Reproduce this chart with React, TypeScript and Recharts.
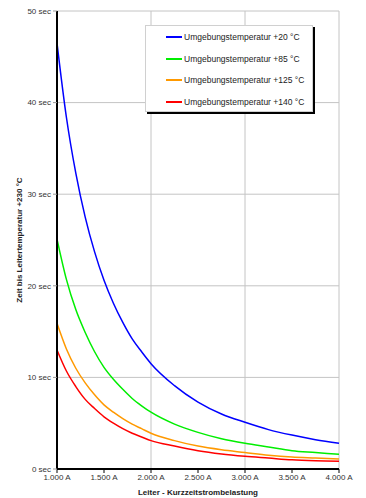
import { LineChart, Line, XAxis, YAxis, CartesianGrid, Label } from "recharts"

const current = [1000, 1100, 1200, 1300, 1400, 1500, 1600, 1700, 1800, 1900, 2000, 2250, 2500, 2750, 3000, 3250, 3500, 3750, 4000]
const temp20 = [46.5, 38.4, 32.3, 27.5, 23.7, 20.6, 18.1, 16.0, 14.2, 12.8, 11.5, 9.1, 7.3, 6.0, 5.1, 4.3, 3.7, 3.2, 2.8]
const temp85 = [25.1, 20.7, 17.4, 14.9, 12.8, 11.1, 9.8, 8.7, 7.7, 6.9, 6.2, 4.9, 4.0, 3.3, 2.8, 2.4, 2.0, 1.8, 1.6]
const temp125 = [15.9, 13.1, 11.0, 9.4, 8.1, 7.0, 6.2, 5.5, 4.9, 4.4, 3.9, 3.1, 2.5, 2.1, 1.8, 1.5, 1.3, 1.2, 1.1]
const temp140 = [13.0, 10.7, 9.0, 7.6, 6.6, 5.7, 5.0, 4.4, 3.9, 3.5, 3.1, 2.5, 2.0, 1.65, 1.4, 1.2, 1.0, 0.9, 0.85]

const xTicks = [1000, 1500, 2000, 2500, 3000, 3500, 4000]
const yTicks = [0, 10, 20, 30, 40, 50]

const series = [
    { key: "t20", name: "Umgebungstemperatur +20 °C", color: "#0000ff" },
    { key: "t85", name: "Umgebungstemperatur +85 °C", color: "#00ee00" },
    { key: "t125", name: "Umgebungstemperatur +125 °C", color: "#ff9900" },
    { key: "t140", name: "Umgebungstemperatur +140 °C", color: "#ff0000" },
]

const data = current.map((a, i) => ({
    a,
    t20: temp20[i],
    t85: temp85[i],
    t125: temp125[i],
    t140: temp140[i],
}))

const font = "'Liberation Sans', Arial, sans-serif"
const fmtAmp = (v: number) => `${(v / 1000).toFixed(3)} A`

// legend sits over the plot, it must not take space from it
function LegendBox() {
    return (
        <div
            style={{
                position: "absolute",
                left: 145,
                top: 25,
                width: 168,
                height: 87,
                background: "#fff",
                border: "1px solid #d0d0d0",
                boxShadow: "2px 2px 0 #000",
                fontFamily: font,
                fontSize: 8.5,
                color: "#222",
                boxSizing: "border-box",
                paddingTop: 0,
            }}
        >
            {series.map((s) => (
                <div key={s.key} style={{ display: "flex", alignItems: "center", height: 21.7, paddingLeft: 20 }}>
                    <span style={{ display: "inline-block", width: 16, height: 2, background: s.color, marginRight: 2 }} />
                    <span>{s.name}</span>
                </div>
            ))}
        </div>
    )
}

const axisTitle = { fontSize: 8, fontWeight: "bold" as const, fill: "#222", fontFamily: font }

export default function App() {
    return (
        <div style={{ position: "absolute", left: 0, top: 0, width: 366, height: 498, background: "#fff" }}>
            <LineChart width={366} height={498} data={data} margin={{ top: 11, right: 27, bottom: 0, left: 0 }}>
                <CartesianGrid stroke="#c4c4c4" strokeWidth={1} />
                <XAxis
                    dataKey="a"
                    type="number"
                    domain={[1000, 4000]}
                    ticks={xTicks}
                    tickFormatter={fmtAmp}
                    height={29}
                    tickSize={4}
                    tickMargin={1}
                    axisLine={{ stroke: "#000", strokeWidth: 2 }}
                    tickLine={{ stroke: "#000" }}
                    tick={{ fontSize: 8, fill: "#333", fontFamily: font }}
                >
                    <Label
                        content={({ viewBox }: any) => (
                            <text x={viewBox.x + viewBox.width / 2} y={495} textAnchor="middle" style={axisTitle}>
                                Leiter - Kurzzeitstrombelastung
                            </text>
                        )}
                    />
                </XAxis>
                <YAxis
                    type="number"
                    domain={[0, 50]}
                    ticks={yTicks}
                    tickFormatter={(v: number) => `${v} sec`}
                    width={57}
                    tickSize={4}
                    tickMargin={2}
                    axisLine={{ stroke: "#000", strokeWidth: 2 }}
                    tickLine={{ stroke: "#999" }}
                    tick={{ fontSize: 8, fill: "#333", fontFamily: font }}
                >
                    <Label
                        content={({ viewBox }: any) => {
                            const cy = viewBox.y + viewBox.height / 2
                            return (
                                <text x={22} y={cy} transform={`rotate(-90 22 ${cy})`} textAnchor="middle" style={axisTitle}>
                                    Zeit bis Leitertemperatur +230 °C
                                </text>
                            )
                        }}
                    />
                </YAxis>
                {series.map((s) => (
                    <Line
                        key={s.key}
                        dataKey={s.key}
                        name={s.name}
                        type="monotone"
                        stroke={s.color}
                        strokeWidth={1.5}
                        dot={false}
                        isAnimationActive={false}
                    />
                ))}
            </LineChart>
            <LegendBox />
        </div>
    )
}
